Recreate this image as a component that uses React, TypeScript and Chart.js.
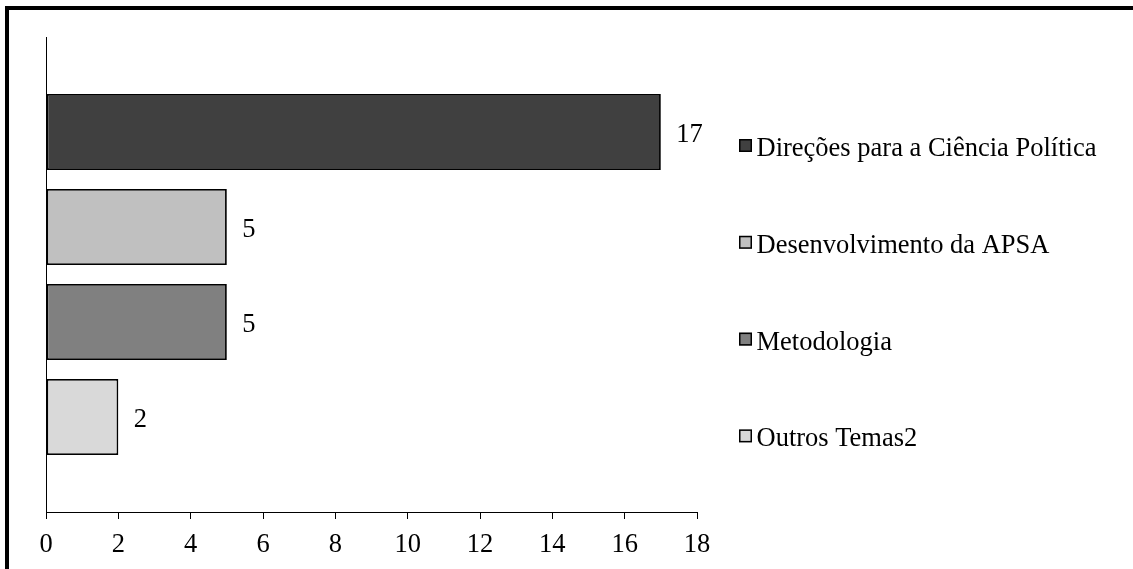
import React, { useEffect, useRef } from 'react';
import { Chart, registerables } from 'chart.js';

Chart.register(...registerables);

// Themes and how many texts fall under each
const categories = [
  'Direções para a Ciência Política',
  'Desenvolvimento da APSA',
  'Metodologia',
  'Outros Temas2',
];
const counts = [17, 5, 5, 2];
const barColors = ['#404040', '#C0C0C0', '#808080', '#D9D9D9'];

// Value axis range
const xMin = 0;
const xMax = 18;
const xStep = 2;

const FONT = "'Liberation Serif', 'Times New Roman', serif";
const FONT_SIZE = 26.5;

// Thick outer frame (only top and left edges fall inside the canvas)
const framePlugin = {
  id: 'frame',
  beforeDraw(chart: any) {
    const { ctx } = chart;
    ctx.save();
    ctx.fillStyle = '#ffffff';
    ctx.fillRect(0, 0, chart.width, chart.height);
    ctx.strokeStyle = '#000000';
    ctx.lineWidth = 4;
    ctx.strokeRect(7, 8, chart.width + 40, chart.height + 40);
    ctx.restore();
  },
};

// Count written just past the end of each bar
const valueLabelPlugin = {
  id: 'valueLabels',
  afterDatasetsDraw(chart: any) {
    const { ctx } = chart;
    const meta = chart.getDatasetMeta(0);
    ctx.save();
    ctx.fillStyle = '#000000';
    ctx.font = `${FONT_SIZE}px ${FONT}`;
    ctx.textAlign = 'left';
    ctx.textBaseline = 'alphabetic';
    meta.data.forEach((bar: any, i: number) => {
      ctx.fillText(String(counts[i]), bar.x + 15.5, bar.y + 9.5);
    });
    ctx.restore();
  },
};

// Legend on the right: small bordered swatch followed by the theme name
const sideLegendPlugin = {
  id: 'sideLegend',
  afterDraw(chart: any) {
    const { ctx } = chart;
    const boxX = 739;
    const textX = 756.5;
    const firstBaseline = 156;
    const rowGap = 96.8;
    const box = 13;
    ctx.save();
    ctx.font = `${FONT_SIZE}px ${FONT}`;
    ctx.textAlign = 'left';
    ctx.textBaseline = 'alphabetic';
    categories.forEach((name, i) => {
      const baseline = firstBaseline + i * rowGap;
      const top = baseline - 17;
      ctx.fillStyle = barColors[i];
      ctx.fillRect(boxX, top, box, box);
      ctx.strokeStyle = '#000000';
      ctx.lineWidth = 1.5;
      ctx.strokeRect(boxX + 0.75, top + 0.75, box - 1.5, box - 1.5);
      ctx.fillStyle = '#000000';
      ctx.fillText(name, textX, baseline);
    });
    ctx.restore();
  },
};

function ThemeBarChart() {
  const canvasRef = useRef<HTMLCanvasElement | null>(null);

  useEffect(() => {
    const canvas = canvasRef.current;
    if (!canvas) return;

    const points = counts.map((v, i) => ({ x: v, y: i + 1 }));

    const chart = new Chart(canvas, {
      type: 'bar',
      data: {
        labels: categories,
        datasets: [
          {
            label: 'Textos',
            data: points as any,
            backgroundColor: barColors,
            borderColor: '#000000',
            borderWidth: 1.8,
            borderSkipped: false,
            barPercentage: 0.8,
            categoryPercentage: 1.0,
          },
        ],
      },
      options: {
        indexAxis: 'y',
        animation: false,
        responsive: true,
        maintainAspectRatio: false,
        layout: { padding: { left: 46, top: 37, right: 436, bottom: 0 } },
        plugins: {
          legend: { display: false },
          tooltip: { enabled: false },
        },
        scales: {
          x: {
            type: 'linear',
            position: 'bottom',
            min: xMin,
            max: xMax,
            ticks: {
              stepSize: xStep,
              color: '#000000',
              padding: 10,
              font: { family: FONT, size: FONT_SIZE },
            },
            grid: {
              display: true,
              drawOnChartArea: false,
              drawTicks: true,
              tickLength: 7,
              color: '#000000',
              lineWidth: 1,
            },
            border: { display: true, color: '#000000', width: 1 },
            afterFit(scale: any) {
              scale.height = 57;
            },
          },
          y: {
            type: 'linear',
            position: 'left',
            reverse: true,
            offset: false,
            min: 0,
            max: categories.length + 1,
            ticks: { display: false, stepSize: 1 },
            grid: { display: false, drawTicks: false, offset: false },
            border: { display: true, color: '#000000', width: 1 },
            afterFit(scale: any) {
              scale.width = 0;
            },
          },
        },
      },
      plugins: [framePlugin, valueLabelPlugin, sideLegendPlugin],
    });

    return () => chart.destroy();
  }, []);

  return (
    <div style={{ position: 'fixed', left: 0, top: 0, width: 1133, height: 569, background: '#ffffff' }}>
      <canvas ref={canvasRef} />
    </div>
  );
}

export default function App() {
  return <ThemeBarChart />;
}
